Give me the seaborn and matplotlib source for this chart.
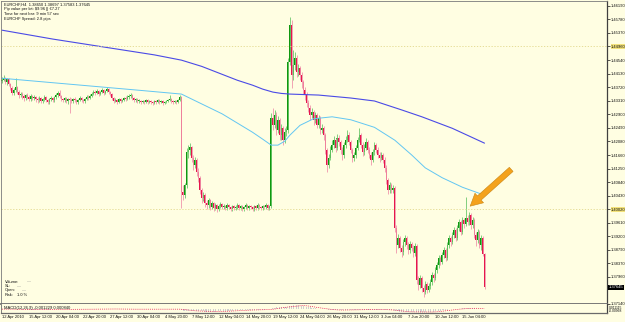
import matplotlib
matplotlib.use("Agg")
import matplotlib.pyplot as plt
import matplotlib.transforms as mtransforms
import numpy as np
import pandas as pd
import seaborn as sns

# EURCHF H4, 12 Apr - 17 Jun 2010, one value per bar (open = previous close)
first_open = 1.4390
closes = [
    1.4393, 1.4399, 1.4387, 1.4396, 1.4381, 1.4369, 1.4354, 1.4363, 1.4372, 1.4357,
    1.4348, 1.4351, 1.4345, 1.4339, 1.4348, 1.4342, 1.4336, 1.4345, 1.4339, 1.4342,
    1.4336, 1.4333, 1.4339, 1.4330, 1.4336, 1.4342, 1.4333, 1.4327, 1.4336, 1.4339,
    1.4333, 1.4342, 1.4348, 1.4354, 1.4345, 1.4336, 1.4333, 1.4339, 1.4330, 1.4336,
    1.4333, 1.4330, 1.4336, 1.4333, 1.4327, 1.4333, 1.4339, 1.4333, 1.4330, 1.4336,
    1.4342, 1.4339, 1.4345, 1.4351, 1.4357, 1.4354, 1.4360, 1.4351, 1.4357, 1.4363,
    1.4354, 1.4360, 1.4366, 1.4357, 1.4351, 1.4339, 1.4330, 1.4333, 1.4327, 1.4336,
    1.4330, 1.4333, 1.4339, 1.4336, 1.4342, 1.4345, 1.4348, 1.4339, 1.4333, 1.4336,
    1.4330, 1.4330, 1.4327, 1.4330, 1.4327, 1.4333, 1.4327, 1.4330, 1.4327, 1.4324,
    1.4330, 1.4327, 1.4333, 1.4327, 1.4330, 1.4324, 1.4327, 1.4330, 1.4333, 1.4336,
    1.4330, 1.4327, 1.4330, 1.4327, 1.4333, 1.4342, 1.4053, 1.4044, 1.4074, 1.4175,
    1.4181, 1.4190, 1.4157, 1.4136, 1.4151, 1.4115, 1.4097, 1.4059, 1.4035, 1.4044,
    1.4020, 1.4014, 1.4029, 1.4008, 1.4020, 1.4005, 1.4014, 1.4002, 1.4011, 1.4017,
    1.4008, 1.4011, 1.4005, 1.4014, 1.4008, 1.4002, 1.4011, 1.4005, 1.4008, 1.4014,
    1.4005, 1.4011, 1.4002, 1.4008, 1.4014, 1.4005, 1.4011, 1.4008, 1.4002, 1.4011,
    1.4005, 1.4014, 1.4008, 1.4005, 1.4011, 1.4008, 1.4014, 1.4005, 1.4011, 1.4279,
    1.4256, 1.4288, 1.4241, 1.4271, 1.4226, 1.4247, 1.4211, 1.4235, 1.4241, 1.4447,
    1.4560, 1.4408, 1.4438, 1.4461, 1.4417, 1.4429, 1.4408, 1.4387, 1.4363, 1.4348,
    1.4324, 1.4309, 1.4288, 1.4297, 1.4273, 1.4288, 1.4256, 1.4279, 1.4241, 1.4247,
    1.4226, 1.4181, 1.4136, 1.4157, 1.4181, 1.4196, 1.4211, 1.4187, 1.4217, 1.4205,
    1.4181, 1.4166, 1.4196, 1.4211, 1.4226, 1.4205, 1.4181, 1.4157, 1.4166, 1.4187,
    1.4211, 1.4226, 1.4196, 1.4175, 1.4187, 1.4205, 1.4181, 1.4166, 1.4151, 1.4175,
    1.4196, 1.4181, 1.4166, 1.4157, 1.4166, 1.4151, 1.4127, 1.4090, 1.4059, 1.4074,
    1.4059, 1.4065, 1.3945, 1.3892, 1.3915, 1.3883, 1.3871, 1.3901, 1.3915, 1.3892,
    1.3877, 1.3895, 1.3883, 1.3868, 1.3889, 1.3787, 1.3772, 1.3793, 1.3763, 1.3751,
    1.3775, 1.3757, 1.3769, 1.3781, 1.3802, 1.3793, 1.3817, 1.3832, 1.3853, 1.3841,
    1.3862, 1.3877, 1.3853, 1.3892, 1.3915, 1.3901, 1.3924, 1.3939, 1.3915, 1.3945,
    1.3963, 1.3933, 1.3969, 1.3957, 1.3975, 1.3963, 1.3984, 1.3954, 1.3969, 1.3924,
    1.3909, 1.3933, 1.3892, 1.3915, 1.3865, 1.37645,
]
highs = [
    1.4402, 1.4408, 1.4402, 1.4399, 1.4399, 1.4384, 1.4375, 1.4369, 1.4399, 1.4375,
    1.4363, 1.4357, 1.4357, 1.4351, 1.4351, 1.4354, 1.4348, 1.4351, 1.4348, 1.4348,
    1.4345, 1.4342, 1.4345, 1.4342, 1.4339, 1.4348, 1.4345, 1.4336, 1.4339, 1.4345,
    1.4342, 1.4345, 1.4354, 1.4360, 1.4363, 1.4348, 1.4339, 1.4342, 1.4342, 1.4339,
    1.4342, 1.4339, 1.4339, 1.4342, 1.4336, 1.4336, 1.4345, 1.4342, 1.4336, 1.4339,
    1.4348, 1.4348, 1.4351, 1.4357, 1.4363, 1.4363, 1.4366, 1.4363, 1.4360, 1.4369,
    1.4366, 1.4363, 1.4372, 1.4369, 1.4360, 1.4354, 1.4342, 1.4339, 1.4336, 1.4339,
    1.4339, 1.4336, 1.4342, 1.4345, 1.4348, 1.4351, 1.4354, 1.4351, 1.4342, 1.4339,
    1.4339, 1.4336, 1.4333, 1.4333, 1.4333, 1.4336, 1.4336, 1.4333, 1.4333, 1.4330,
    1.4333, 1.4333, 1.4336, 1.4336, 1.4333, 1.4333, 1.4330, 1.4333, 1.4336, 1.4348,
    1.4339, 1.4333, 1.4333, 1.4333, 1.4336, 1.4348, 1.4345, 1.4074, 1.4080, 1.4187,
    1.4196, 1.4202, 1.4193, 1.4166, 1.4160, 1.4157, 1.4127, 1.4103, 1.4065, 1.4053,
    1.4050, 1.4029, 1.4035, 1.4032, 1.4026, 1.4023, 1.4020, 1.4017, 1.4017, 1.4023,
    1.4020, 1.4017, 1.4014, 1.4020, 1.4017, 1.4011, 1.4014, 1.4014, 1.4014, 1.4020,
    1.4017, 1.4014, 1.4014, 1.4011, 1.4020, 1.4017, 1.4014, 1.4014, 1.4011, 1.4014,
    1.4014, 1.4020, 1.4017, 1.4011, 1.4014, 1.4014, 1.4020, 1.4017, 1.4014, 1.4294,
    1.4309, 1.4303, 1.4297, 1.4285, 1.4279, 1.4259, 1.4253, 1.4247, 1.4253, 1.4461,
    1.4584, 1.4575, 1.4485, 1.4479, 1.4470, 1.4441, 1.4435, 1.4417, 1.4393, 1.4372,
    1.4357, 1.4333, 1.4318, 1.4309, 1.4303, 1.4297, 1.4294, 1.4288, 1.4285, 1.4259,
    1.4253, 1.4232, 1.4187, 1.4169, 1.4193, 1.4211, 1.4223, 1.4217, 1.4229, 1.4226,
    1.4211, 1.4190, 1.4205, 1.4223, 1.4241, 1.4235, 1.4211, 1.4187, 1.4175, 1.4196,
    1.4220, 1.4247, 1.4232, 1.4205, 1.4199, 1.4217, 1.4211, 1.4190, 1.4175, 1.4184,
    1.4205, 1.4202, 1.4190, 1.4175, 1.4175, 1.4172, 1.4160, 1.4136, 1.4097, 1.4083,
    1.4080, 1.4074, 1.4071, 1.3954, 1.3927, 1.3921, 1.3892, 1.3912, 1.3924, 1.3921,
    1.3901, 1.3904, 1.3901, 1.3892, 1.3898, 1.3895, 1.3799, 1.3802, 1.3799, 1.3772,
    1.3784, 1.3781, 1.3778, 1.3790, 1.3811, 1.3808, 1.3826, 1.3841, 1.3862, 1.3859,
    1.3871, 1.3886, 1.3883, 1.3901, 1.3924, 1.3921, 1.3933, 1.3948, 1.3945, 1.3954,
    1.3972, 1.3969, 1.3978, 1.3975, 1.4038, 1.3984, 1.3993, 1.3990, 1.3978, 1.3975,
    1.3933, 1.3942, 1.3939, 1.3924, 1.3921, 1.38697,
]
lows = [
    1.4384, 1.4390, 1.4381, 1.4378, 1.4375, 1.4363, 1.4348, 1.4348, 1.4357, 1.4351,
    1.4339, 1.4342, 1.4336, 1.4330, 1.4333, 1.4336, 1.4330, 1.4330, 1.4333, 1.4333,
    1.4327, 1.4324, 1.4327, 1.4324, 1.4324, 1.4330, 1.4327, 1.4321, 1.4321, 1.4330,
    1.4327, 1.4327, 1.4336, 1.4342, 1.4339, 1.4330, 1.4327, 1.4327, 1.4324, 1.4321,
    1.4294, 1.4324, 1.4324, 1.4327, 1.4321, 1.4321, 1.4330, 1.4327, 1.4324, 1.4324,
    1.4333, 1.4333, 1.4336, 1.4342, 1.4348, 1.4348, 1.4351, 1.4345, 1.4348, 1.4354,
    1.4348, 1.4351, 1.4357, 1.4351, 1.4345, 1.4333, 1.4324, 1.4327, 1.4321, 1.4324,
    1.4324, 1.4327, 1.4330, 1.4330, 1.4333, 1.4336, 1.4339, 1.4333, 1.4327, 1.4327,
    1.4324, 1.4324, 1.4321, 1.4324, 1.4321, 1.4324, 1.4321, 1.4324, 1.4321, 1.4318,
    1.4321, 1.4321, 1.4324, 1.4321, 1.4324, 1.4318, 1.4321, 1.4324, 1.4327, 1.4330,
    1.4324, 1.4321, 1.4324, 1.4321, 1.4324, 1.4330, 1.4005, 1.4029, 1.4035, 1.4065,
    1.4157, 1.4166, 1.4145, 1.4121, 1.4127, 1.4103, 1.4083, 1.4047, 1.4020, 1.4026,
    1.4008, 1.4002, 1.4005, 1.3999, 1.4002, 1.3996, 1.3999, 1.3993, 1.3996, 1.4005,
    1.4002, 1.4002, 1.3999, 1.3999, 1.4002, 1.3996, 1.3996, 1.3999, 1.3999, 1.4002,
    1.3999, 1.3999, 1.3996, 1.3996, 1.4002, 1.3999, 1.3999, 1.4002, 1.3996, 1.3996,
    1.3999, 1.3999, 1.4002, 1.3999, 1.3999, 1.4002, 1.4002, 1.3999, 1.3999, 1.4005,
    1.4241, 1.4247, 1.4226, 1.4232, 1.4211, 1.4211, 1.4196, 1.4202, 1.4223, 1.4232,
    1.4438, 1.4369, 1.4393, 1.4423, 1.4402, 1.4405, 1.4393, 1.4369, 1.4351, 1.4333,
    1.4312, 1.4297, 1.4273, 1.4279, 1.4256, 1.4262, 1.4247, 1.4247, 1.4229, 1.4232,
    1.4211, 1.4169, 1.4115, 1.4127, 1.4151, 1.4175, 1.4187, 1.4175, 1.4181, 1.4193,
    1.4169, 1.4151, 1.4157, 1.4187, 1.4205, 1.4196, 1.4172, 1.4145, 1.4148, 1.4157,
    1.4181, 1.4205, 1.4187, 1.4163, 1.4166, 1.4181, 1.4172, 1.4157, 1.4136, 1.4145,
    1.4166, 1.4172, 1.4157, 1.4145, 1.4151, 1.4142, 1.4115, 1.4077, 1.4047, 1.4050,
    1.4050, 1.4050, 1.3933, 1.3868, 1.3883, 1.3871, 1.3856, 1.3862, 1.3889, 1.3880,
    1.3865, 1.3868, 1.3874, 1.3856, 1.3859, 1.3775, 1.3757, 1.3763, 1.3751, 1.3736,
    1.3745, 1.3748, 1.3751, 1.3760, 1.3772, 1.3781, 1.3787, 1.3808, 1.3823, 1.3832,
    1.3835, 1.3853, 1.3844, 1.3847, 1.3883, 1.3889, 1.3895, 1.3915, 1.3904, 1.3909,
    1.3936, 1.3924, 1.3927, 1.3945, 1.3951, 1.3954, 1.3954, 1.3942, 1.3945, 1.3915,
    1.3889, 1.3898, 1.3883, 1.3877, 1.3859, 1.37583,
]

# moving averages as drawn on the chart (bar index, price)
slow_bar = [0, 30, 60, 90, 106, 118, 130, 139, 148, 154, 160, 165, 170, 187, 206,
            220, 236, 248, 266, 285]
slow_ma = [1.4545, 1.4518, 1.4494, 1.4470, 1.4454, 1.4435, 1.4411, 1.4393, 1.4378,
           1.4366, 1.4357, 1.4353, 1.4351, 1.4348, 1.4339, 1.4330, 1.4303, 1.4282,
           1.4247, 1.4202]
fast_bar = [0, 40, 80, 106, 112, 118, 130, 148, 154, 159, 163, 167, 170, 176, 184,
            195, 206, 220, 232, 242, 250, 260, 272, 285]
fast_ma = [1.4399, 1.4381, 1.4363, 1.4351, 1.4336, 1.4321, 1.4291, 1.4235, 1.4214,
           1.4196, 1.4196, 1.4208, 1.4226, 1.4256, 1.4276, 1.4282, 1.4273, 1.4250,
           1.4211, 1.4166, 1.4127, 1.4097, 1.4068, 1.4044]

price_ticks = [1.46190, 1.45780, 1.45370, 1.44960, 1.44540, 1.44130, 1.43720, 1.43310,
               1.42900, 1.42490, 1.42080, 1.41660, 1.41250, 1.40840, 1.40430, 1.40020,
               1.39610, 1.39200, 1.38790, 1.38370, 1.37960, 1.37140]
level_lines = [1.44960, 1.40020]
last_price = 1.37645

time_labels = ["12 Apr 2010", "15 Apr 12:00", "20 Apr 04:00", "22 Apr 20:00",
               "27 Apr 12:00", "30 Apr 04:00", "4 May 20:00", "7 May 12:00",
               "12 May 04:00", "14 May 20:00", "19 May 12:00", "24 May 04:00",
               "26 May 20:00", "31 May 12:00", "3 Jun 04:00", "7 Jun 20:00",
               "10 Jun 12:00", "15 Jun 04:00"]

info_lines = ["EURCHF,H4  1.38650 1.38697 1.37583 1.37645",
              "Pip value per lot: $9.96 || \u20ac7.27",
              "Time for next bar: 9 min 57 sec",
              "EURCHF Spread: 2.8 pips"]

BG = "#fffee2"
UP, UP_W = "#0f980f", "#6ec86e"
DN, DN_W = "#e6164c", "#f095ac"

sns.set_style("white", {"axes.facecolor": BG, "figure.facecolor": BG})
plt.rcParams["font.family"] = ["Liberation Sans", "DejaVu Sans"]

n = len(closes)
df = pd.DataFrame({"bar": np.arange(n), "open": [first_open] + closes[:-1],
                   "high": highs, "low": lows, "close": closes})
bull = (df.close >= df.open).values
body_lo = df[["open", "close"]].min(axis=1)
body_h = (df.close - df.open).abs().clip(lower=0.00018)

# MACD(12,26,9) from the closes
macd = df.close.ewm(span=12, adjust=False).mean() - df.close.ewm(span=26, adjust=False).mean()
signal = macd.rolling(9, min_periods=1).mean()

W, H = 625, 322
PX = 1.693  # pixels per bar
fig = plt.figure(figsize=(W / 100, H / 100), dpi=100)
ax = fig.add_axes([1 / W, 1 - 304 / H, 606 / W, 303 / H])
axm = fig.add_axes([1 / W, 1 - 312.5 / H, 606 / W, 8.3 / H])
x0 = -1 / PX
x1 = x0 + 606 / PX

# candles
ax.vlines(df.bar, df.low, df.high, colors=np.where(bull, UP_W, DN_W), lw=0.6)
ax.bar(df.bar, body_h, bottom=body_lo, width=0.85, color=np.where(bull, UP, DN), lw=0)

sns.lineplot(x=slow_bar, y=slow_ma, ax=ax, color="#4a4ae6", lw=0.8)
sns.lineplot(x=fast_bar, y=fast_ma, ax=ax, color="#62c6f2", lw=0.7)
for lv in level_lines:
    ax.axhline(lv, color="#e2d88c", lw=0.6, ls=(0, (1.5, 2)))

ax.annotate("", xy=(275.3, 1.4005), xytext=(302, 1.4128),
            arrowprops=dict(arrowstyle="simple,head_length=1.1,head_width=1.15,tail_width=0.5",
                            fc="#f4a21c", ec="#c98412", lw=0.4, mutation_scale=8))

ax.set_xlim(x0, x1)
ax.set_ylim(1.37136, 1.46336)
ax.yaxis.tick_right()
ax.set_yticks(price_ticks, [f"{v:.5f}" for v in price_ticks])
ax.tick_params(axis="y", labelsize=3, length=1.8, width=0.5, pad=1.2, colors="#111111")
ax.set_xticks([])
ax.set_xlabel("")
ax.set_ylabel("")
for lbl in ax.get_yticklabels():
    if lbl.get_text() in ("1.44960", "1.40020"):
        lbl.set_bbox(dict(fc="#f3e27a", ec="none", pad=0.4))
trans = mtransforms.blended_transform_factory(ax.transAxes, ax.transData)
ax.text(1.0035, last_price, f"{last_price:.5f}", transform=trans, fontsize=3, color="white",
        va="center", ha="left", bbox=dict(fc="black", ec="none", pad=0.5))
for s in ax.spines.values():
    s.set_color("#7a7a7a")
    s.set_linewidth(0.6)
ax.spines["bottom"].set_color("#6e6e6e")
ax.spines["bottom"].set_linewidth(1.3)
ax.spines["right"].set_color("#404040")
ax.spines["right"].set_linewidth(0.9)

# MACD pane
axm.bar(df.bar, macd, width=0.45, color="#cfcfcf", lw=0)
sns.lineplot(x=df.bar, y=signal, ax=axm, color="#e8174e", lw=0.5, ls=(0, (1.5, 1.5)))
lo, hi = min(macd.min(), signal.min()), max(macd.max(), signal.max())
axm.set_xlim(x0, x1)
axm.set_ylim(lo * 1.1, hi * 1.3)
axm.set_yticks([])
axm.set_xlabel("")
axm.set_ylabel("")
axm.set_xticks(np.arange(len(time_labels)) * 16, time_labels)
axm.tick_params(axis="x", labelsize=3, length=1.2, width=0.5, pad=0.6, colors="#111111")
for lbl in axm.get_xticklabels():
    lbl.set_ha("left")
for s in axm.spines.values():
    s.set_color("#6a6a6a")
    s.set_linewidth(0.6)
axm.spines["top"].set_visible(False)
axm.spines["bottom"].set_linewidth(0.9)
axm.spines["right"].set_color("#404040")
axm.spines["right"].set_linewidth(0.9)
fig.text(609 / W, 1 - 307.6 / H, "0.011115", fontsize=2.4, va="center", color="#111111")
fig.text(609 / W, 1 - 310.6 / H, "-0.00968", fontsize=2.4, va="center", color="#111111")
fig.text(4 / W, 1 - 308.2 / H, "MACD(12,26,9) -0.001229 0.000840", fontsize=3,
         va="center", color="#111111")

# on-chart text
for k, line in enumerate(info_lines):
    fig.text(4 / W, 1 - (4.6 + 4.7 * k) / H, line, fontsize=2.9, va="center", color="#111111")
panel = [("Volume:", 27, "\u2014"), ("SL:", 17, "\u2014"), ("Open:", 22, "\u2014"),
         ("Risk:", 17, "1.0 %")]
for k, (name, vx, val) in enumerate(panel):
    yy = 1 - (281.7 + 4.4 * k) / H
    fig.text(5 / W, yy, name, fontsize=2.9, va="center", color="#111111")
    fig.text(vx / W, yy, val, fontsize=2.9, va="center",
             color="#111111" if name == "Risk:" else "#8a8a8a")

fig.savefig("out.png", dpi=100, facecolor=BG)
